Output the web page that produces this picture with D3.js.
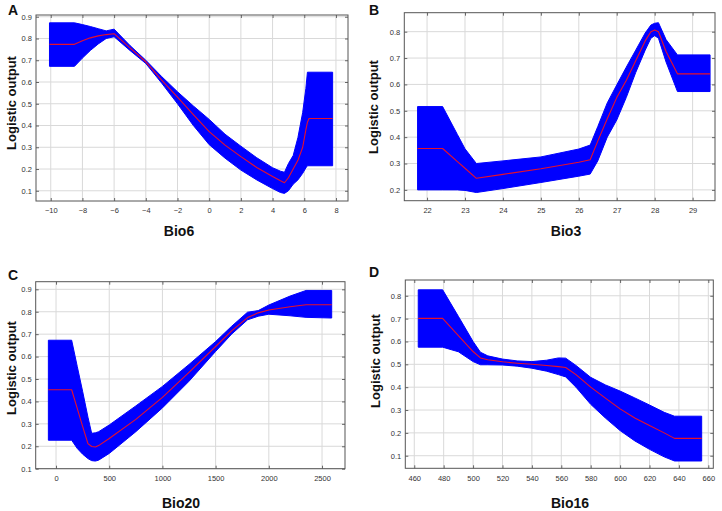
<!DOCTYPE html>
<html><head><meta charset="utf-8">
<script src="https://cdn.jsdelivr.net/npm/d3@7"></script>
<style>
html,body{margin:0;padding:0;background:#fff;}
svg{display:block;font-family:"Liberation Sans",Arial,sans-serif;}
</style></head>
<body>
<svg id="chart" width="722" height="511"></svg>
<script>
// ---------- Panel A: Bio6 ----------
const aX     = [-10.08,-8.5,-8,-7.5,-7,-6.5,-6,-5,-4,-3,-2,-1,0,1,2,3,4,4.5,4.75,5.0,5.3,5.6,5.9,6.1,6.2,6.3,7.79];
const aMean  = [0.773,0.773,0.79,0.803,0.812,0.818,0.822,0.757,0.693,0.609,0.531,0.45,0.372,0.31,0.257,0.207,0.166,0.146,0.137,0.16,0.2,0.24,0.3,0.38,0.415,0.432,0.432];
const aUpper = [0.872,0.872,0.864,0.855,0.845,0.835,0.843,0.768,0.70,0.625,0.555,0.49,0.428,0.36,0.305,0.252,0.206,0.19,0.185,0.225,0.262,0.345,0.46,0.57,0.645,0.645,0.645];
const aLower = [0.672,0.672,0.71,0.745,0.775,0.80,0.808,0.745,0.685,0.595,0.50,0.40,0.312,0.25,0.195,0.15,0.11,0.092,0.088,0.10,0.13,0.15,0.18,0.205,0.215,0.215,0.215];
const aXTicks = [-10,-8,-6,-4,-2,0,2,4,6,8];
const aYTicks = [0.1,0.2,0.3,0.4,0.5,0.6,0.7,0.8,0.9];

// ---------- Panel B: Bio3 ----------
const bX     = [21.75,22.41,22.8,23.0,23.3,24,25,26,26.3,26.5,26.75,27,27.25,27.5,27.75,27.9,28,28.1,28.3,28.6,29.46];
const bMean  = [0.357,0.357,0.307,0.282,0.244,0.259,0.28,0.305,0.314,0.385,0.47,0.55,0.615,0.69,0.765,0.80,0.806,0.80,0.725,0.64,0.64];
const bUpper = [0.516,0.516,0.41,0.356,0.30,0.31,0.325,0.355,0.37,0.44,0.53,0.598,0.665,0.73,0.795,0.825,0.832,0.834,0.77,0.712,0.712];
const bLower = [0.20,0.20,0.20,0.198,0.19,0.205,0.228,0.252,0.26,0.31,0.40,0.465,0.55,0.645,0.73,0.775,0.785,0.775,0.685,0.573,0.573];
const bXTicks = [22,23,24,25,26,27,28,29];
const bYTicks = [0.2,0.3,0.4,0.5,0.6,0.7,0.8];

// ---------- Panel C: Bio20 ----------
const cX     = [-72,147,200,250,300,335,370,400,500,750,1000,1250,1500,1650,1800,1900,2000,2200,2350,2591];
const cMean  = [0.452,0.452,0.368,0.289,0.212,0.199,0.197,0.203,0.235,0.32,0.418,0.53,0.645,0.715,0.774,0.795,0.808,0.822,0.831,0.831];
const cUpper = [0.673,0.673,0.555,0.445,0.33,0.258,0.26,0.265,0.295,0.38,0.467,0.565,0.667,0.735,0.798,0.805,0.83,0.87,0.895,0.895];
const cLower = [0.227,0.227,0.19,0.165,0.145,0.136,0.134,0.138,0.168,0.265,0.371,0.49,0.623,0.70,0.764,0.78,0.789,0.782,0.775,0.772];
const cXTicks = [0,500,1000,1500,2000,2500];
const cYTicks = [0.1,0.2,0.3,0.4,0.5,0.6,0.7,0.8,0.9];

// ---------- Panel D: Bio16 ----------
const dX     = [462.7,479.3,490,500,505,510,520,530,540,550,558,563,570,580,590,600,610,620,630,637,655.5];
const dMean  = [0.701,0.701,0.626,0.556,0.528,0.52,0.511,0.505,0.50,0.495,0.49,0.486,0.455,0.40,0.352,0.305,0.265,0.232,0.20,0.176,0.176];
const dUpper = [0.826,0.826,0.71,0.60,0.553,0.537,0.523,0.515,0.512,0.518,0.528,0.527,0.495,0.443,0.41,0.383,0.353,0.322,0.29,0.273,0.273];
const dLower = [0.575,0.575,0.555,0.512,0.498,0.498,0.497,0.492,0.483,0.47,0.455,0.445,0.40,0.325,0.265,0.21,0.165,0.128,0.095,0.077,0.077];
const dXTicks = [460,480,500,520,540,560,580,600,620,640,660];
const dYTicks = [0.1,0.2,0.3,0.4,0.5,0.6,0.7,0.8];

const yTitle = "Logistic output";

const panels = [
  {letter:"A", title:"Bio6",  x:aX, mean:aMean, up:aUpper, lo:aLower, xt:aXTicks, yt:aYTicks,
   box:[36,15,348,201], xd:[-10.93,8.76], yd:[0.053,0.908], lx:8, ly:15, yx:11, yy:103, xtx:179, xty:236},
  {letter:"B", title:"Bio3",  x:bX, mean:bMean, up:bUpper, lo:bLower, xt:bXTicks, yt:bYTicks,
   box:[404.3,12.7,715,200.7], xd:[21.40,29.59], yd:[0.159,0.872], lx:369, ly:15, yx:373, yy:107, xtx:566, xty:236},
  {letter:"C", title:"Bio20", x:cX, mean:cMean, up:cUpper, lo:cLower, xt:cXTicks, yt:cYTicks,
   box:[35.7,281.7,345,468.7], xd:[-191,2716], yd:[0.1,0.934], lx:8, ly:280, yx:11, yy:368, xtx:181, xty:508},
  {letter:"D", title:"Bio16", x:dX, mean:dMean, up:dUpper, lo:dLower, xt:dXTicks, yt:dYTicks,
   box:[405.3,280,713.3,468.3], xd:[453.9,663.4], yd:[0.045,0.869], lx:369, ly:277, yx:375, yy:361, xtx:570, xty:508}
];

const svg = d3.select("#chart");
const fmtX = d3.format("");
const fmtY = d3.format(".1f");

panels.forEach(p => {
  const [x0,y0,x1,y1] = p.box;
  const W = x1-x0, H = y1-y0;
  const g = svg.append("g").attr("transform", `translate(${x0},${y0})`);
  const xs = d3.scaleLinear().domain(p.xd).range([0,W]);
  const ys = d3.scaleLinear().domain(p.yd).range([H,0]);

  // grid
  g.append("g").selectAll("line").data(p.xt).join("line")
    .attr("x1",d=>xs(d)).attr("x2",d=>xs(d)).attr("y1",0).attr("y2",H)
    .attr("stroke","#d9d9d9").attr("stroke-width",1);
  g.append("g").selectAll("line").data(p.yt).join("line")
    .attr("y1",d=>ys(d)).attr("y2",d=>ys(d)).attr("x1",0).attr("x2",W)
    .attr("stroke","#d9d9d9").attr("stroke-width",1);

  const pts = p.x.map((v,i)=>({x:v, m:p.mean[i], u:p.up[i], l:p.lo[i]}));
  const area = d3.area().x(d=>xs(d.x)).y0(d=>ys(d.l)).y1(d=>ys(d.u)).curve(d3.curveLinear);
  const line = d3.line().x(d=>xs(d.x)).y(d=>ys(d.m)).curve(d3.curveLinear);
  g.append("path").datum(pts).attr("d",area).attr("fill","#0000ff")
    .attr("stroke","#0000ff").attr("stroke-width",1).attr("stroke-linejoin","round");
  g.append("path").datum(pts).attr("d",line).attr("fill","none")
    .attr("stroke","#e8102a").attr("stroke-width",1.1).attr("stroke-linejoin","round");

  // axes
  const axB = g.append("g").attr("transform",`translate(0,${H})`)
    .call(d3.axisBottom(xs).tickValues(p.xt).tickFormat(fmtX).tickSizeInner(-3).tickSizeOuter(0).tickPadding(7));
  const axL = g.append("g")
    .call(d3.axisLeft(ys).tickValues(p.yt).tickFormat(fmtY).tickSizeInner(-3).tickSizeOuter(0).tickPadding(4));
  const axT = g.append("g")
    .call(d3.axisTop(xs).tickValues(p.xt).tickFormat("").tickSizeInner(-3).tickSizeOuter(0));
  const axR = g.append("g").attr("transform",`translate(${W},0)`)
    .call(d3.axisRight(ys).tickValues(p.yt).tickFormat("").tickSizeInner(-3).tickSizeOuter(0));
  [axB,axL,axT,axR].forEach(a=>{
    a.select(".domain").remove();
    a.selectAll(".tick line").attr("stroke","#666");
    a.selectAll("text").attr("font-size","7.5px").attr("fill","#333")
      .attr("font-family","'Liberation Sans',Arial,sans-serif");
  });
  g.append("rect").attr("x",0).attr("y",0).attr("width",W).attr("height",H)
    .attr("fill","none").attr("stroke","#555").attr("stroke-width",1);

  // labels
  svg.append("text").attr("x",p.lx).attr("y",p.ly).text(p.letter)
    .attr("font-size","14px").attr("font-weight","bold").attr("fill","#111");
  svg.append("text").attr("x",p.xtx).attr("y",p.xty).text(p.title)
    .attr("text-anchor","middle").attr("font-size","14px").attr("font-weight","bold").attr("fill","#111");
  svg.append("text").attr("transform",`translate(${p.yx},${p.yy}) rotate(-90)`)
    .attr("text-anchor","middle").attr("dy","0.35em").text(yTitle)
    .attr("font-size","13px").attr("font-weight","bold").attr("fill","#111");
});
</script>
</body></html>
